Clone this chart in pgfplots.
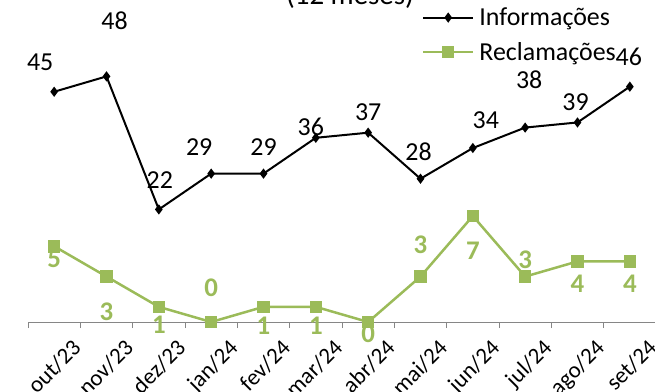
\documentclass[border=0pt]{standalone}
\usepackage{pgfplots}
\pgfplotsset{compat=1.18}
\usepackage{pgfplotstable}
\usepackage{fontspec}
\setmainfont{Carlito}
\definecolor{grn}{HTML}{9BBB59}
\definecolor{axgray}{HTML}{868686}

\pgfplotstableread{
x y dx dy lab
0 45 -14 29 45
1 48 8 56 48
2 22 1 29 22
3 29 -12 27 29
4 29 0 27 29
5 36 -5 11 36
6 37 0 20 37
7 28 -2 27 28
8 34 13 28 34
9 38 4 48 38
10 39 -2 20 39
11 46 -1 30 46
}\info

\pgfplotstableread{
x y dx dy lab
0 5 0 -13 5
1 3 0 -35 3
2 1 0 -18 1
3 0 0 34 0
4 1 0 -19 1
5 1 0 -19 1
6 0 0 -12 0
7 3 0 32 3
8 7 0 -35 7
9 3 0 17 3
10 4 0 -22 4
11 4 0 -22 4
}\recl

\begin{document}
\begin{tikzpicture}[x=1bp,y=1bp]
\begin{axis}[
  at={(0,0)}, anchor=south west,
  scale only axis, width=628bp, height=307bp,
  xmin=-0.5, xmax=11.5, ymin=0, ymax=60,
  axis y line=none,
  axis x line*=bottom,
  x axis line style={draw=axgray, line width=1bp, -},
  xtick={0.32,1.32,2.32,3.32,4.32,5.32,6.32,7.32,8.32,9.32,10.32,11.32},
  xticklabels={out/23,nov/23,dez/23,jan/24,fev/24,mar/24,abr/24,mai/24,jun/24,jul/24,ago/24,set/24},
  major tick length=0pt,
  minor xtick={-0.5,0.5,...,11.5},
  minor tick length=6bp,
  xtick align=outside,
  minor x tick style={axgray, line width=1bp},
  xticklabel shift=16bp,
  xticklabel style={rotate=45, anchor=north east, font=\fontsize{23}{25}\selectfont, inner sep=0bp},
  clip=false,
  legend style={at={(rel axis cs:0.627,1.03)}, anchor=north west, draw=none, fill=none,
    font=\fontsize{26}{30}\selectfont, inner sep=0pt, row sep=11bp, cells={anchor=west}},
  legend image code/.code={\draw[mark repeat=2,mark phase=2,#1] plot coordinates {(0bp,0bp) (25bp,0bp) (50bp,0bp)};},
]
\addplot[black, line width=2bp, mark=diamond*, mark size=3.5bp,
  nodes near coords, point meta=explicit symbolic,
  visualization depends on={\thisrow{dx}\as\dx},
  visualization depends on={\thisrow{dy}\as\dy},
  every node near coord/.append style={anchor=center, xshift=\dx bp, yshift=\dy bp, font=\fontsize{26}{30}\selectfont, text=black}]
  table[x=x,y=y,meta=lab]{\info};
\addlegendentry{\hspace{3bp}Informações}
\addlegendimage{grn, line width=2.5bp, mark=square*, mark size=5bp}
\addlegendentry{\hspace{3bp}Reclamações}
\end{axis}
\begin{axis}[
  at={(0,0)}, anchor=south west,
  scale only axis, width=628bp, height=307bp,
  xmin=-0.5, xmax=11.5, ymin=0, ymax=20.27,
  hide axis, clip=false]
\addplot[grn, line width=2.5bp, mark=square*, mark size=5bp,
  nodes near coords, point meta=explicit symbolic,
  visualization depends on={\thisrow{dx}\as\dx},
  visualization depends on={\thisrow{dy}\as\dy},
  every node near coord/.append style={anchor=center, xshift=\dx bp, yshift=\dy bp, font=\fontsize{27}{30}\selectfont\bfseries, text=grn}]
  table[x=x,y=y,meta=lab]{\recl};
\end{axis}
\node[anchor=base, font=\fontsize{29}{32}\selectfont] at (322bp,317bp) {(12 meses)};
\pgfresetboundingbox
\useasboundingbox (-28bp,-70bp) rectangle (627bp,322bp);
\end{tikzpicture}
\end{document}
